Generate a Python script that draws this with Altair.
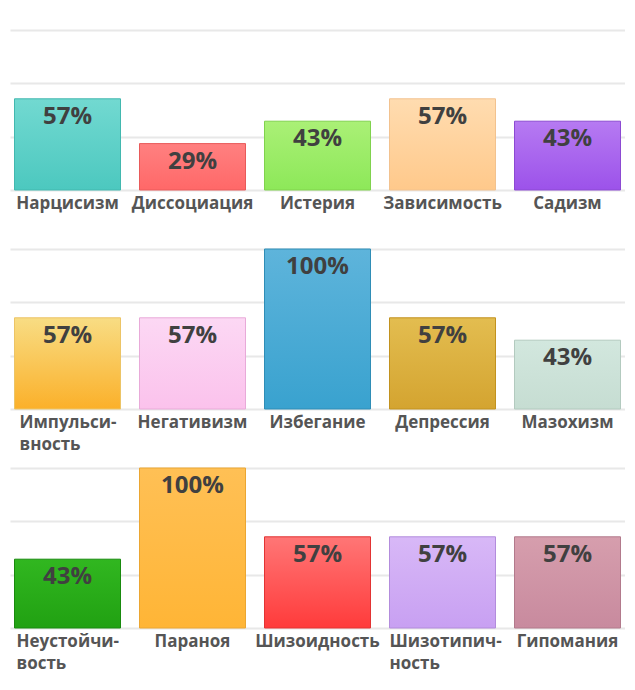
import altair as alt
import pandas as pd

# ---- data ----
row1_categories = ["Нарцисизм", "Диссоциация", "Истерия", "Зависимость", "Садизм"]
row1_values = [57, 29, 43, 57, 43]
row2_categories = ["Импульси-\nвность", "Негативизм", "Избегание", "Депрессия", "Мазохизм"]
row2_values = [57, 57, 100, 57, 43]
row3_categories = ["Неустойчи-\nвость", "Параноя", "Шизоидность", "Шизотипич-\nность", "Гипомания"]
row3_values = [43, 100, 57, 57, 57]
grid_ticks = [0, 33.333, 66.667, 100]

# ---- palette (top, bottom, stroke) ----
row1_colors = [("#72d9d1", "#4cc8bf", "#42b8af"), ("#ff8080", "#ff6868", "#e85a5a"),
               ("#aaf076", "#8de859", "#80d24e"), ("#ffdcb0", "#ffc98b", "#f2c28f"),
               ("#b67af2", "#9c52ea", "#8c4ad2")]
row2_colors = [("#f8dd84", "#fbb02a", "#ecc466"), ("#fcd8f4", "#fbc2ec", "#e8aad9"),
               ("#5eb4db", "#39a2cf", "#2f8db6"), ("#e3bd50", "#d4a430", "#c2921f"),
               ("#d2e7de", "#c6ddd2", "#b3cabf")]
row3_colors = [("#31b720", "#21a112", "#198a0e"), ("#ffc055", "#ffb536", "#eba632"),
               ("#ff7676", "#ff3b3b", "#e23434"), ("#d8b8f7", "#c8a0f2", "#b38cdc"),
               ("#d69ead", "#c88a9e", "#b27a8c")]

# left-align shift for wrapped (two-line) labels, in px
wrap_shift = {"Импульси-\nвность": -48, "Неустойчи-\nвость": -51, "Шизотипич-\nность": -53}


def make_row(cats, vals, colors):
    df = pd.DataFrame({"cat": cats, "v": vals})
    wrapped = [c for c in cats if c in wrap_shift]
    axis_kw = {}
    if wrapped:
        w = wrapped[0]
        test = "datum.value === " + repr(w).replace("'", '"')
        test = "indexof(datum.value, '\\n') >= 0"
        offs = "{" + ",".join('"%s": %d' % (c.replace("\n", "\\n"), wrap_shift[c]) for c in wrapped) + "}"
        axis_kw["labelAlign"] = {"condition": {"test": test, "value": "left"}, "value": "center"}
        axis_kw["labelOffset"] = {"condition": [
            {"test": "datum.value === '%s'" % c.replace("\n", "\\n"), "value": wrap_shift[c]}
            for c in wrapped], "value": 0}
    x = alt.X("cat:N", sort=cats, title=None,
              scale=alt.Scale(paddingInner=0.152, paddingOuter=0.036),
              axis=alt.Axis(labelAngle=0, domain=False, ticks=False,
                            labelFont="Open Sans", labelFontWeight="bold",
                            labelFontSize=17, labelColor="#555555",
                            labelPadding=5, labelLineHeight=22,
                            labelExpr="split(datum.label, '\\n')", **axis_kw))
    y = alt.Y("v:Q", title=None, scale=alt.Scale(domain=[0, 100]),
              axis=alt.Axis(values=grid_ticks, labels=False, ticks=False, domain=False,
                            grid=True, gridColor="#e8e8e8", gridWidth=2))
    layers = []
    for c, (top, bot, stroke) in zip(cats, colors):
        grad = alt.Gradient(gradient="linear", x1=0, x2=0, y1=0, y2=1,
                            stops=[alt.GradientStop(color=top, offset=0),
                                   alt.GradientStop(color=bot, offset=1)])
        layers.append(
            alt.Chart(df).transform_filter(alt.datum.cat == c)
            .mark_bar(color=grad, stroke=stroke, strokeWidth=1)
            .encode(x=x, y=y)
        )
    text = alt.Chart(df).transform_calculate(lab="datum.v + '%'").mark_text(
        baseline="middle", dy=18, font="Open Sans", fontWeight="bold",
        fontSize=24, color="#404040"
    ).encode(x=x, y=y, text="lab:N")
    return alt.layer(*layers, text).properties(width=615, height=160)


chart = alt.vconcat(
    make_row(row1_categories, row1_values, row1_colors),
    make_row(row2_categories, row2_values, row2_colors),
    make_row(row3_categories, row3_values, row3_colors),
    spacing=59, bounds="flush",
).properties(
    padding={"top": 22, "left": 2, "right": 0, "bottom": 6}
).configure_view(stroke=None)

chart.save("out.html", embed_options={"renderer": "svg", "actions": False})
